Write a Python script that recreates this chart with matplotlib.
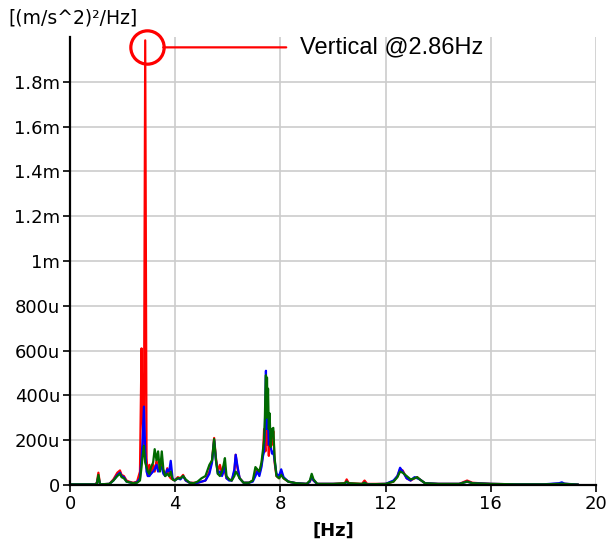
import numpy as np
import matplotlib
matplotlib.use("Agg")
import matplotlib.pyplot as plt
from matplotlib.ticker import FuncFormatter
from matplotlib.transforms import offset_copy

# frequency axis [Hz]
freq = [0, 0.95, 1.02, 1.08, 1.14, 1.5, 1.65, 1.8, 1.9, 1.96,
        2.05, 2.15, 2.25, 2.4, 2.55, 2.66, 2.72, 2.76, 2.81, 2.86,
        2.91, 2.96, 3.02, 3.08, 3.16, 3.22, 3.29, 3.35, 3.42, 3.49,
        3.55, 3.62, 3.7, 3.77, 3.83, 3.9, 3.98, 4.1, 4.2, 4.3,
        4.4, 4.55, 4.7, 4.85, 5.0, 5.15, 5.3, 5.4, 5.48, 5.55,
        5.62, 5.7, 5.78, 5.84, 5.89, 5.95, 6.05, 6.15, 6.25, 6.3,
        6.36, 6.45, 6.6, 6.8, 6.95, 7.05, 7.12, 7.2, 7.28, 7.34,
        7.38, 7.41, 7.43, 7.45, 7.47, 7.49, 7.51, 7.53, 7.56, 7.59, 7.63, 7.68, 7.73, 7.78,
        7.85, 7.95, 8.03, 8.12, 8.3, 8.6, 9.0, 9.12, 9.19, 9.26,
        9.4, 10.0, 10.45, 10.52, 10.6, 11.1, 11.2, 11.3, 12.0, 12.3,
        12.45, 12.55, 12.65, 12.8, 12.95, 13.1, 13.2, 13.3, 13.5, 14.0,
        14.8, 15.1, 15.3, 16.0, 17.0, 18.0, 18.6, 18.7, 18.8, 19.3]

# PSD values in micro (m/s^2)^2/Hz
red = [3, 3, 10, 55, 3, 5, 25, 55, 65, 45,
       40, 20, 15, 10, 15, 60, 610, 300, 150, 1985,
       120, 40, 90, 50, 90, 60, 110, 70, 80, 100,
       60, 40, 75, 40, 30, 25, 20, 35, 30, 45,
       20, 10, 10, 10, 15, 20, 60, 110, 210, 120,
       60, 90, 50, 70, 60, 30, 25, 20, 60, 135,
       80, 30, 10, 10, 20, 50, 70, 50, 90, 140,
       250, 200, 150, 300, 200, 260, 180, 220, 130, 230, 210, 180, 240, 100,
       40, 30, 55, 30, 15, 8, 5, 15, 35, 20,
       5, 5, 8, 25, 8, 5, 20, 5, 5, 15,
       40, 70, 65, 30, 20, 30, 35, 25, 8, 5,
       5, 20, 10, 5, 3, 3, 5, 8, 5, 2]

blue = [3, 3, 8, 35, 3, 5, 20, 45, 55, 40,
        35, 15, 12, 8, 12, 30, 120, 200, 350, 150,
        60, 40, 40, 50, 60, 70, 90, 60, 70, 80,
        50, 40, 70, 60, 108, 30, 20, 30, 25, 40,
        20, 10, 8, 10, 15, 20, 50, 100, 200, 110,
        50, 60, 40, 60, 80, 30, 20, 20, 70, 135,
        90, 30, 10, 10, 15, 40, 60, 40, 80, 130,
        150, 250, 380, 510, 250, 400, 260, 300, 180, 200, 170, 140, 150, 110,
        50, 40, 70, 35, 15, 8, 5, 15, 40, 20,
        5, 5, 5, 15, 5, 3, 10, 3, 5, 20,
        40, 77, 60, 30, 20, 35, 30, 25, 8, 5,
        5, 15, 8, 5, 3, 3, 8, 12, 6, 2]

green = [3, 3, 5, 45, 3, 5, 20, 40, 50, 35,
         30, 15, 12, 8, 10, 20, 80, 130, 175, 100,
         80, 60, 50, 80, 100, 160, 110, 150, 60, 150,
         70, 40, 50, 40, 60, 25, 20, 30, 30, 40,
         25, 10, 8, 15, 30, 40, 90, 110, 205, 110,
         50, 40, 60, 90, 120, 40, 25, 20, 40, 60,
         50, 30, 10, 10, 20, 80, 70, 60, 100, 160,
         200, 300, 420, 490, 300, 480, 350, 430, 250, 320, 170, 250, 255, 120,
         40, 30, 45, 30, 15, 8, 5, 20, 50, 25,
         5, 5, 8, 15, 8, 5, 10, 3, 5, 15,
         35, 60, 55, 40, 25, 30, 35, 25, 8, 5,
         5, 15, 8, 5, 3, 3, 5, 6, 5, 2]

xticks = [0, 4, 8, 12, 16, 20]
yticks = [0, 200, 400, 600, 800, 1000, 1200, 1400, 1600, 1800]
label_text = "Vertical @2.86Hz"

f = np.array(freq)
series = [(np.array(red) * 1e-6, "#ff0000"),
          (np.array(blue) * 1e-6, "#0000ff"),
          (np.array(green) * 1e-6, "#006a00")]


def fmt(v, pos):
    u = v * 1e6
    if abs(u) < 0.5:
        return "0"
    if u >= 1000:
        return ("%g" % (u / 1000.0)) + "m"
    return "%gu" % u


fig = plt.figure(figsize=(6.06, 5.39), dpi=100)
ax = fig.add_axes([70 / 606, 1 - 485 / 539, 526 / 606, 448 / 539])

for v, c in series:
    ax.plot(f, v, color=c, lw=1.6, solid_joinstyle="round")

ax.set_xlim(0, 20)
ax.set_ylim(0, 2.0e-3)
ax.set_xticks(xticks)
ax.set_yticks(np.array(yticks) * 1e-6)
ax.yaxis.set_major_formatter(FuncFormatter(fmt))
ax.grid(True, color="#cccccc", lw=1.2)
ax.set_axisbelow(True)
for s in ["top", "right"]:
    ax.spines[s].set_visible(False)
for s in ["left", "bottom"]:
    ax.spines[s].set_linewidth(1.6)
ax.tick_params(length=5, width=1.2, labelsize=13, pad=2)

# peak marker
ipk = int(np.argmax(series[0][0]))
fx, fy = f[ipk], series[0][0][ipk]
tr = offset_copy(ax.transData, fig=fig, x=2, y=-7, units="dots")
ax.plot([fx], [fy], "o", ms=24, mfc="none", mec="#ff0000", mew=2.3,
        transform=tr, clip_on=False)
tr2 = offset_copy(ax.transData, fig=fig, x=18, y=-7, units="dots")
tr3 = offset_copy(ax.transData, fig=fig, x=141, y=-7, units="dots")
ax.annotate("", xy=(fx, fy), xycoords=tr3, xytext=(fx, fy), textcoords=tr2,
            arrowprops=dict(arrowstyle="-", color="#ff0000", lw=1.6,
                            shrinkA=0, shrinkB=0))
ax.annotate(label_text, xy=(fx, fy), xycoords=ax.transData,
            xytext=(155 / 100 * 72, -7 / 100 * 72), textcoords="offset points",
            fontsize=17, family="Liberation Sans", va="center", ha="left")

fig.text(8 / 606, 1 - 18 / 539, "[(m/s^2)²/Hz]", fontsize=13.5, va="center", ha="left")
fig.text(333 / 606, 1 - 531 / 539, "[Hz]", fontsize=13, fontweight="bold",
         va="center", ha="center")

fig.savefig("out.png", dpi=100)
